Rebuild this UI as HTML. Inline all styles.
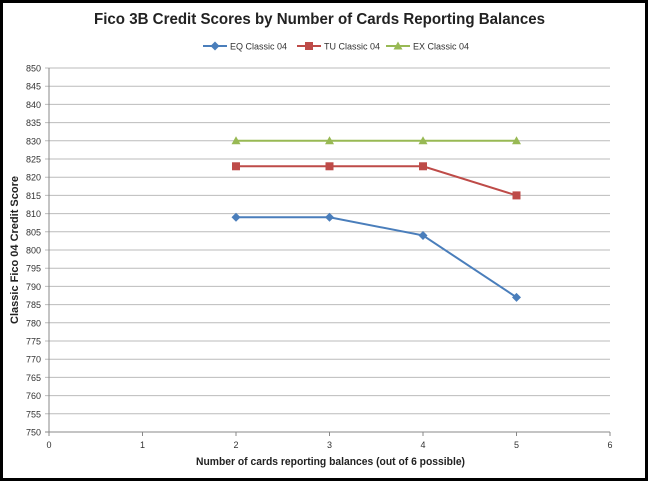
<!DOCTYPE html>
<html><head><meta charset="utf-8"><style>
body{margin:0;background:#fff}
svg{display:block;font-family:"Liberation Sans",sans-serif}
</style></head><body>
<svg id="chart" width="648" height="481">
<rect x="1.5" y="1.5" width="645" height="478" fill="#fff" stroke="#000" stroke-width="3"/>
<text x="94" y="24" textLength="451" lengthAdjust="spacingAndGlyphs" font-size="16" font-weight="bold" fill="#222">Fico 3B Credit Scores by Number of Cards Reporting Balances</text>
<g id="grid"></g><g id="series"></g><g id="legend"></g>
<text x="196" y="465" textLength="269" lengthAdjust="spacingAndGlyphs" font-size="11" font-weight="bold" fill="#222">Number of cards reporting balances (out of 6 possible)</text>
<text transform="translate(18,250) rotate(-90)" text-anchor="middle" font-size="11" font-weight="bold" fill="#222">Classic Fico 04 Credit Score</text>
</svg>
<script>
const xCats=[2,3,4,5];
const eqValues=[809,809,804,787];
const tuValues=[823,823,823,815];
const exValues=[830,830,830,830];
const yTicks=[750,755,760,765,770,775,780,785,790,795,800,805,810,815,820,825,830,835,840,845,850];
const xTicks=[0,1,2,3,4,5,6];
const seriesNames=["EQ Classic 04","TU Classic 04","EX Classic 04"];
const NS="http://www.w3.org/2000/svg";
const X0=49,X1=610,Y0=432,Y1=68;
const xs=v=>X0+(v-0)/6*(X1-X0);
const ys=v=>Y0-(v-750)/100*(Y0-Y1);
function mk(t,a,p){const e=document.createElementNS(NS,t);for(const k in a)e.setAttribute(k,a[k]);p.appendChild(e);return e;}
const grid=document.getElementById('grid');
yTicks.forEach(v=>{
 const l=mk('line',{x1:X0-4,x2:X1,y1:ys(v),y2:ys(v),stroke:v===750?'#888':'#bbb','stroke-width':1},grid);
 
 
 const t=mk('text',{x:X0-8,y:ys(v)+3.5,'text-anchor':'end','font-size':9,fill:'#333'},grid);
 t.textContent=v;
 
 
});
const ax=mk('line',{x1:X0,x2:X0,y1:Y1,y2:Y0,stroke:'#888'},grid);


xTicks.forEach(v=>{
 const l=mk('line',{x1:xs(v),x2:xs(v),y1:Y0,y2:Y0+4,stroke:'#888'},grid);
 
 
 const t=mk('text',{x:xs(v),y:Y0+16,'text-anchor':'middle','font-size':9,fill:'#333'},grid);
 t.textContent=v;
 
 
});
const colors=['#4a7ebb','#be4b48','#98b954'];
const shapes=['diamond','square','triangle'];
function marker(g,shape,x,y,c){
 let e;
 if(shape==='diamond')e=mk('polygon',{points:`${x},${y-4.5} ${x+4.5},${y} ${x},${y+4.5} ${x-4.5},${y}`,fill:c},g);
 else if(shape==='square')e=mk('rect',{x:x-4,y:y-4,width:8,height:8,fill:c},g);
 else e=mk('polygon',{points:`${x},${y-4.5} ${x+4.5},${y+3.5} ${x-4.5},${y+3.5}`,fill:c},g);
 return e;
}
const sg=document.getElementById('series');
[eqValues,tuValues,exValues].forEach((vals,i)=>{
 const pl=mk('polyline',{points:vals.map((v,j)=>xs(xCats[j])+','+ys(v)).join(' '),fill:'none',stroke:colors[i],'stroke-width':2},sg);
 
 
 vals.forEach((v,j)=>{
  const m=marker(sg,shapes[i],xs(xCats[j]),ys(v),colors[i]);
  
  
 });
});
const lg=document.getElementById('legend');
const lx=[203,297,386];
seriesNames.forEach((n,i)=>{
 const l=mk('line',{x1:lx[i],x2:lx[i]+24,y1:46,y2:46,stroke:colors[i],'stroke-width':2},lg);
 
 
 const m=marker(lg,shapes[i],lx[i]+12,46,colors[i]);
 
 
 const t=mk('text',{x:lx[i]+27,y:49.5,'font-size':9,fill:'#333'},lg);
 t.textContent=n;
 
 
});
</script>
</body></html>
